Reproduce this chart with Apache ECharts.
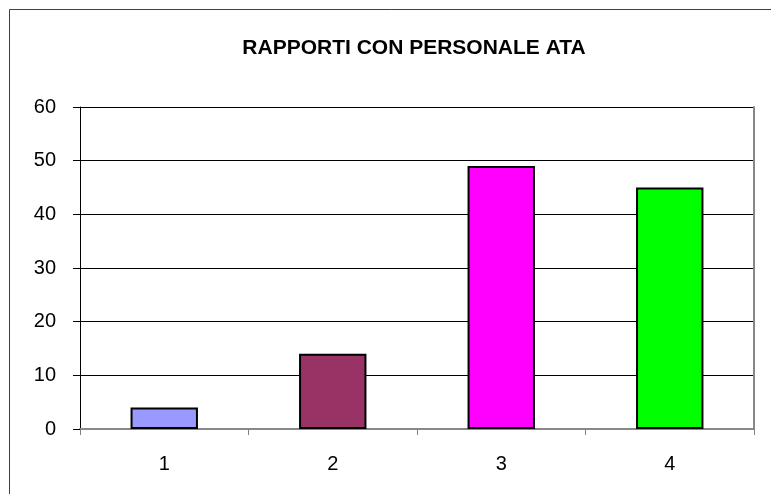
<!DOCTYPE html>
<html><head><meta charset="utf-8">
<script src="https://cdn.jsdelivr.net/npm/echarts@6/dist/echarts.min.js"></script>
<style>html,body{margin:0;padding:0;background:#fff}#c{width:771px;height:494px}</style>
</head><body><div id="c"></div>
<script>
const categories = ['1','2','3','4'];
const values = [4, 14, 49, 45];
const barColors = ['#9999FF','#993366','#FF00FF','#00FF00'];
const yTicks = [0,10,20,30,40,50,60];

const chart = echarts.init(document.getElementById('c'), null, {renderer:'canvas'});
const font = 'Liberation Sans, Arial, sans-serif';
chart.setOption({
  animation:false,
  backgroundColor:'#fff',
  title:{text:'RAPPORTI CON PERSONALE ATA', left:409, top:33, textAlign:'center',
    textStyle:{fontFamily:font, fontSize:21, fontWeight:'bold', color:'#000'}},
  graphic:[{type:'rect', shape:{x:9.5,y:9.5,width:800,height:500}, style:{fill:null, stroke:'#404040', lineWidth:1}, silent:true}],
  grid:{left:80, right:17, top:107, bottom:65, containLabel:false},
  xAxis:[{type:'category', data:categories, position:'bottom',
    axisLine:{lineStyle:{color:'#000', width:1}},
    axisTick:{show:true, length:6, lineStyle:{color:'#808080'}},
    axisLabel:{fontFamily:font, fontSize:20, color:'#000', margin:25},
    splitLine:{show:false}},
    {type:'category', data:categories, position:'top', axisLine:{lineStyle:{color:'#888', width:2}}, axisTick:{show:false}, axisLabel:{show:false}}],
  yAxis:[{type:'value', min:yTicks[0], max:yTicks[yTicks.length-1], interval:10,
    axisLine:{show:true, lineStyle:{color:'#000', width:1}},
    axisTick:{show:true, length:7, lineStyle:{color:'#000'}},
    axisLabel:{fontFamily:font, fontSize:20, color:'#000', margin:24},
    splitLine:{show:true, lineStyle:{color:'#000', width:1}}},
    {type:'value', min:0, max:60, position:'right', axisLine:{show:true, lineStyle:{color:'#888', width:2}}, axisTick:{show:false}, axisLabel:{show:false}, splitLine:{show:false}}],
  series:[{type:'bar', data:values.map((v,i)=>({value:v, itemStyle:{color:barColors[i]}})),
    barWidth:'40%', itemStyle:{borderColor:'#000', borderWidth:2}}]
});
</script></body></html>
